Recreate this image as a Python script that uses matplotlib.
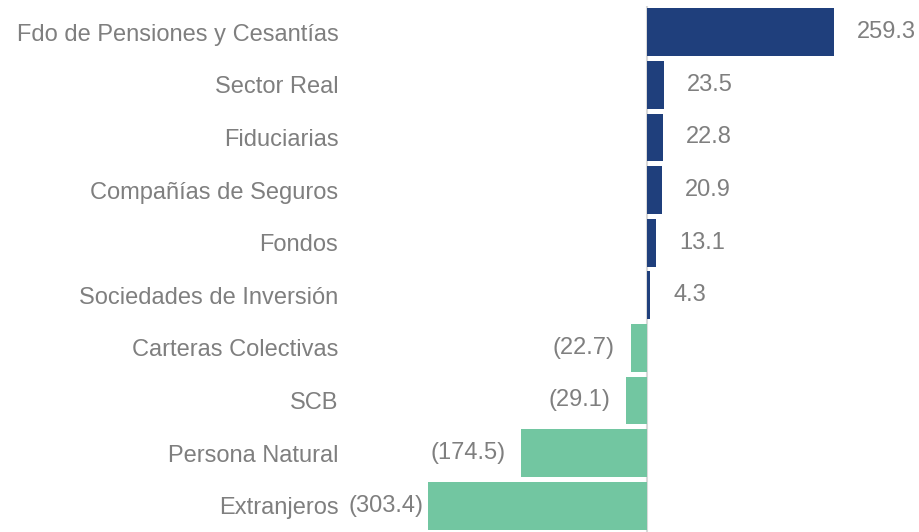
import matplotlib.pyplot as plt

categories = ["Fdo de Pensiones y Cesantías", "Sector Real", "Fiduciarias",
              "Compañías de Seguros", "Fondos", "Sociedades de Inversión",
              "Carteras Colectivas", "SCB", "Persona Natural", "Extranjeros"]
values = [259.3, 23.5, 22.8, 20.9, 13.1, 4.3, -22.7, -29.1, -174.5, -303.4]

BLUE = "#1F3F7C"
GREEN = "#72C6A1"
GRAY = "#7F7F7F"

W, H = 919, 532
fig = plt.figure(figsize=(W / 100, H / 100), dpi=100)
plt.rcParams["font.family"] = ["Liberation Sans", "DejaVu Sans"]

# axes in pixel coords: left 348, right 919, top 6, bottom 532
ax = fig.add_axes([348 / W, 0, (919 - 348) / W, (532 - 6) / H])

colors = [BLUE if v >= 0 else GREEN for v in values]
y = list(range(len(categories)))
ax.barh(y, values, height=0.91, color=colors)

scale = 0.7213  # px per unit
ax.set_xlim(-(647 - 348) / scale, (919 - 647) / scale)
ax.set_ylim(len(categories) - 0.5, -0.5)

ax.axvline(0, color="#D9D9D9", lw=1.5, zorder=0)

for i, v in enumerate(values):
    if v >= 0:
        ax.annotate(f"{v:.1f}", (v, i), xytext=(16.5, 0), textcoords="offset points",
                    ha="left", va="center", color=GRAY, fontsize=17)
    else:
        off = -3 if i == len(values) - 1 else -11.5
        ax.annotate(f"({-v:.1f})", (v, i), xytext=(off, 0), textcoords="offset points",
                    ha="right", va="center", color=GRAY, fontsize=17)

ax.set_yticks(y)
ax.set_yticklabels(categories, fontsize=17, color=GRAY)
ax.tick_params(axis="y", length=0, pad=7)
ax.set_xticks([])
for s in ax.spines.values():
    s.set_visible(False)

fig.savefig("out.png", dpi=100)
